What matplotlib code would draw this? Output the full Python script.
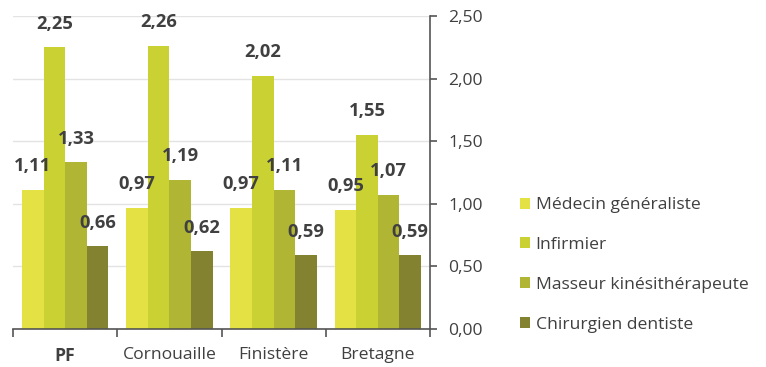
import numpy as np
import matplotlib.pyplot as plt
from matplotlib.patches import Patch

plt.rcParams['font.family'] = ['Open Sans', 'DejaVu Sans']

categories = ['PF', 'Cornouaille', 'Finistère', 'Bretagne']
series_names = ['Médecin généraliste', 'Infirmier', 'Masseur kinésithérapeute', 'Chirurgien dentiste']
medecin = [1.11, 0.97, 0.97, 0.95]
infirmier = [2.25, 2.26, 2.02, 1.55]
masseur = [1.33, 1.19, 1.11, 1.07]
dentiste = [0.66, 0.62, 0.59, 0.59]
yticks = [0.0, 0.5, 1.0, 1.5, 2.0, 2.5]

colors = ['#e4e145', '#c9d232', '#b0b533', '#838230']
text_col = '#404040'
axis_col = '#555555'
fs = 12.6

fig = plt.figure(figsize=(7.66, 3.67), dpi=100)
ax = fig.add_axes([13 / 766, 1 - 329 / 367, 417 / 766, 313 / 367])

x = np.arange(len(categories))
w = 0.207
all_series = [medecin, infirmier, masseur, dentiste]
for i, vals in enumerate(all_series):
    pos = x + (i - 1.5) * w
    ax.bar(pos, vals, width=w, color=colors[i], zorder=2)
    for px, v in zip(pos, vals):
        ax.annotate(f'{v:.2f}'.replace('.', ','), (px, v), xytext=(0, 17),
                    textcoords='offset points', ha='center', va='center',
                    fontsize=13.2, fontweight='bold', color=text_col)

ax.set_xlim(-0.5, len(categories) - 0.5)
ax.set_ylim(0, 2.5)
ax.yaxis.tick_right()
ax.set_yticks(yticks)
ax.set_yticklabels([f'{t:.2f}'.replace('.', ',') for t in yticks],
                   fontsize=fs, color=text_col)
ax.tick_params(axis='y', direction='out', length=5, width=1.2, color=axis_col, pad=8)
ax.grid(axis='y', color='#e3e3e3', linewidth=1, zorder=0)

ax.set_xticks(x)
ax.set_xticklabels(categories, fontsize=fs, color=text_col)
ax.get_xticklabels()[0].set_fontweight('bold')
ax.tick_params(axis='x', which='major', length=0, pad=13)
ax.set_xticks(np.arange(len(categories) + 1) - 0.5, minor=True)
ax.tick_params(axis='x', which='minor', length=6, width=1.2, color=axis_col)

for s in ['top', 'left']:
    ax.spines[s].set_visible(False)
ax.spines['bottom'].set_color(axis_col)
ax.spines['bottom'].set_linewidth(1.2)
ax.spines['right'].set_color(axis_col)
ax.spines['right'].set_linewidth(1.2)

handles = [Patch(facecolor=c, edgecolor='none') for c in colors]
leg = fig.legend(handles, series_names, loc='center left',
                 bbox_to_anchor=(504 / 766, 1 - 265 / 367), frameon=False,
                 fontsize=fs, handlelength=0.6, handleheight=0.6,
                 handletextpad=0.3, labelspacing=1.36)
for t in leg.get_texts():
    t.set_color(text_col)

fig.savefig('out.png', dpi=100)
